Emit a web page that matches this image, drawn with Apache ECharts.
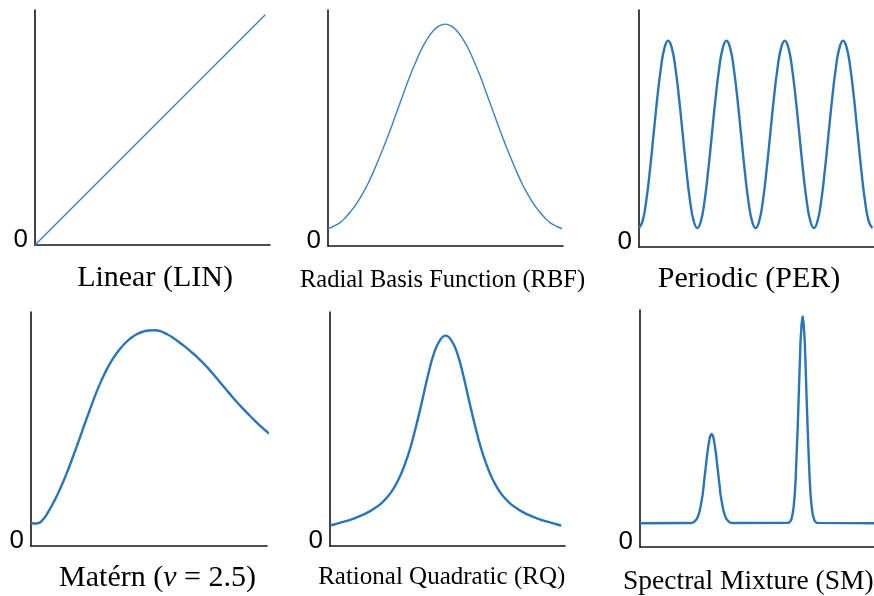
<!DOCTYPE html>
<html>
<head>
<meta charset="utf-8">
<script src="https://cdn.jsdelivr.net/npm/echarts@6/dist/echarts.min.js"></script>
<style>
  html, body { margin: 0; padding: 0; background: #ffffff; }
  #chart { width: 874px; height: 596px; }
</style>
</head>
<body>
<div id="chart"></div>
<script>
// ---- Data (x = lag, y = covariance, both normalised) ----
const titles = ['Linear (LIN)', 'Radial Basis Function (RBF)', 'Periodic (PER)',
                'Matérn ({i|ν} = 2.5)', 'Rational Quadratic (RQ)', 'Spectral Mixture (SM)'];
const yTickLabels = ['0'];

const linX = [0, 0.98];
const linY = [0, 0.98];

const rbfX = [0, 0.025, 0.05, 0.075, 0.1, 0.125, 0.15, 0.175, 0.2, 0.225, 0.25, 0.275, 0.3, 0.325,
              0.35, 0.375, 0.4, 0.425, 0.45, 0.475, 0.5, 0.525, 0.55, 0.575, 0.6, 0.625, 0.65,
              0.675, 0.7, 0.725, 0.75, 0.775, 0.8, 0.825, 0.85, 0.875, 0.9, 0.925, 0.95, 0.975, 1.0];
const rbfY = [0.073, 0.084, 0.098, 0.121, 0.150, 0.184, 0.225, 0.273, 0.328, 0.388, 0.450, 0.516,
              0.585, 0.653, 0.720, 0.780, 0.835, 0.879, 0.912, 0.933, 0.940, 0.933, 0.912, 0.879,
              0.835, 0.780, 0.720, 0.653, 0.585, 0.516, 0.450, 0.388, 0.328, 0.273, 0.225, 0.184,
              0.150, 0.121, 0.098, 0.084, 0.073];

const perX = [];
for (let k = 0; k <= 64; k++) perX.push(k / 16);   // lag in periods (grid positions only)
const perY = [0.080, 0.110, 0.196, 0.324, 0.475, 0.626, 0.754, 0.840, 0.870, 0.840, 0.754, 0.626, 0.475, 0.324, 0.196, 0.110,
              0.080, 0.110, 0.196, 0.324, 0.475, 0.626, 0.754, 0.840, 0.870, 0.840, 0.754, 0.626, 0.475, 0.324, 0.196, 0.110,
              0.080, 0.110, 0.196, 0.324, 0.475, 0.626, 0.754, 0.840, 0.870, 0.840, 0.754, 0.626, 0.475, 0.324, 0.196, 0.110,
              0.080, 0.110, 0.196, 0.324, 0.475, 0.626, 0.754, 0.840, 0.870, 0.840, 0.754, 0.626, 0.475, 0.324, 0.196, 0.110,
              0.080];

const matX = [0, 0.025, 0.05, 0.075, 0.1, 0.125, 0.15, 0.175, 0.2, 0.225, 0.25, 0.275, 0.3, 0.325,
              0.35, 0.375, 0.4, 0.425, 0.45, 0.475, 0.5, 0.525, 0.55, 0.575, 0.6, 0.625, 0.65,
              0.675, 0.7, 0.725, 0.75, 0.775, 0.8, 0.825, 0.85, 0.875, 0.9, 0.925, 0.95, 0.975, 1.0, 1.013];
const matY = [0.097, 0.096, 0.112, 0.149, 0.195, 0.248, 0.308, 0.374, 0.443, 0.514, 0.584, 0.651,
              0.711, 0.762, 0.805, 0.840, 0.868, 0.890, 0.906, 0.916, 0.921, 0.922, 0.917, 0.906,
              0.891, 0.873, 0.854, 0.833, 0.811, 0.787, 0.760, 0.731, 0.701, 0.671, 0.641, 0.612,
              0.585, 0.559, 0.534, 0.510, 0.488, 0.478];

const rqX = [0, 0.017, 0.042, 0.067, 0.092, 0.117, 0.142, 0.167, 0.192, 0.217, 0.242, 0.267, 0.292,
             0.317, 0.342, 0.367, 0.392, 0.417, 0.442, 0.467, 0.492, 0.517, 0.542, 0.567, 0.592,
             0.617, 0.642, 0.667, 0.692, 0.717, 0.742, 0.767, 0.792, 0.817, 0.842, 0.867, 0.892,
             0.917, 0.942, 0.967, 0.984];
const rqY = [0.087, 0.092, 0.099, 0.106, 0.114, 0.123, 0.134, 0.147, 0.163, 0.181, 0.207, 0.240, 0.285,
             0.345, 0.420, 0.515, 0.620, 0.730, 0.822, 0.878, 0.899, 0.878, 0.822, 0.730, 0.620,
             0.515, 0.420, 0.345, 0.285, 0.240, 0.207, 0.181, 0.163, 0.147, 0.134, 0.123, 0.114,
             0.106, 0.099, 0.092, 0.087];

const smX = [0, 0.216, 0.2224, 0.229, 0.2352, 0.242, 0.248, 0.255, 0.2608, 0.268, 0.2736, 0.280, 0.2864,
             0.293, 0.2992, 0.306, 0.3128, 0.319, 0.3256, 0.332, 0.3384, 0.344, 0.3512, 0.357, 0.364,
             0.370, 0.383, 0.396,
             0.635, 0.644, 0.648, 0.652, 0.6567, 0.661, 0.6653, 0.669, 0.6738, 0.678, 0.6824, 0.686,
             0.691, 0.695, 0.699, 0.704, 0.7079, 0.712, 0.7165, 0.721, 0.725, 0.729, 0.7336, 0.738,
             0.746, 0.755, 1.0];
const smY = [0.100, 0.101, 0.102, 0.104, 0.109, 0.117, 0.130, 0.151, 0.181, 0.222, 0.274, 0.329, 0.386,
             0.433, 0.466, 0.477, 0.466, 0.433, 0.386, 0.329, 0.274, 0.222, 0.181, 0.151, 0.130,
             0.117, 0.104, 0.101,
             0.102, 0.110, 0.120, 0.138, 0.170, 0.218, 0.288, 0.383, 0.500, 0.629, 0.760, 0.870,
             0.945, 0.972, 0.945, 0.870, 0.760, 0.629, 0.500, 0.383, 0.288, 0.218, 0.170, 0.138,
             0.110, 0.102, 0.100];

// ---- Layout / styling ----
const panels = [
  { xs: linX, ys: linY, xMax: 1,     grid: { left: 35,  top: 10,  width: 235, height: 235 }, thin: true },
  { xs: rbfX, ys: rbfY, xMax: 1.004, grid: { left: 328, top: 10,  width: 235, height: 236 }, thin: true },
  { xs: perX, ys: perY, xMax: 4.03,  grid: { left: 639, top: 10,  width: 235, height: 237 } },
  { xs: matX, ys: matY, xMax: 1,     grid: { left: 31,  top: 312, width: 236, height: 234 } },
  { xs: rqX,  ys: rqY,  xMax: 1,     grid: { left: 330, top: 312, width: 235, height: 234 } },
  { xs: smX,  ys: smY,  xMax: 1,     grid: { left: 640, top: 310, width: 234, height: 237 }, straight: true }
];
const titlePos = [
  { x: 155,   y: 278,   size: 30 },
  { x: 442.5, y: 281,   size: 24.5 },
  { x: 749,   y: 279,   size: 30 },
  { x: 157.5, y: 578,   size: 30 },
  { x: 441.7, y: 577.5, size: 25 },
  { x: 748.3, y: 581.7, size: 27.5 }
];

const serif = '"Liberation Serif", "Times New Roman", Times, serif';
const sans = '"Liberation Sans", Arial, Helvetica, sans-serif';
const axisLine = { show: true, onZero: false, lineStyle: { color: '#151515', width: 1.6 } };

const option = {
  backgroundColor: '#ffffff',
  animation: false,
  grid: panels.map(p => p.grid),
  xAxis: panels.map((p, i) => ({
    type: 'value', gridIndex: i, min: 0, max: p.xMax,
    axisLine: axisLine, axisTick: { show: false }, axisLabel: { show: false },
    splitLine: { show: false }
  })),
  yAxis: panels.map((p, i) => ({
    type: 'value', gridIndex: i, min: 0, max: 1, interval: 1,
    axisLine: axisLine, axisTick: { show: false },
    axisLabel: {
      show: true, formatter: v => (v === 0 ? yTickLabels[0] : ''),
      fontSize: 26, fontFamily: sans, color: '#000', margin: 7,
      verticalAlign: 'bottom', lineHeight: 11
    },
    splitLine: { show: false }
  })),
  series: panels.map((p, i) => ({
    type: 'line', xAxisIndex: i, yAxisIndex: i,
    data: p.xs.map((x, k) => [x, p.ys[k]]),
    showSymbol: false, symbol: 'none', smooth: p.straight ? false : 0.5,
    clip: false,
    lineStyle: p.thin ? { color: '#3a80c2', width: 1.4 } : { color: '#2a75b8', width: 2.4, join: 'round' }
  })),
  graphic: titles.map((t, i) => ({
    type: 'text', x: titlePos[i].x, y: titlePos[i].y,
    style: {
      text: t, fill: '#000',
      font: titlePos[i].size + 'px ' + serif,
      fontSize: titlePos[i].size, fontFamily: serif,
      align: 'center', verticalAlign: 'middle',
      rich: { i: { fontStyle: 'italic', fontSize: titlePos[i].size, fontFamily: serif, fill: '#000' } }
    }
  }))
};

const chart = echarts.init(document.getElementById('chart'), null, { renderer: 'canvas' });
chart.setOption(option);
</script>
</body>
</html>
